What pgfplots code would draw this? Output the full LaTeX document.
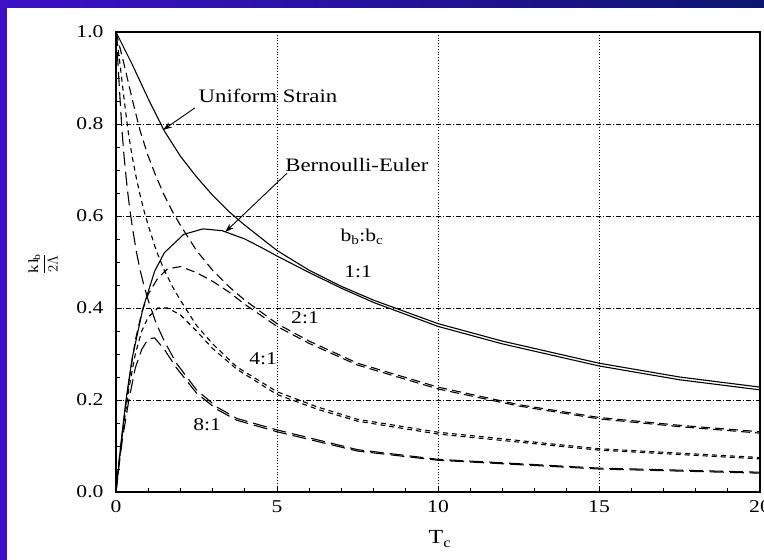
\documentclass[border=0pt]{standalone}
\usepackage{fontspec}
\setmainfont[FakeStretch=1.2]{Liberation Serif}
\usepackage{pgfplots}
\pgfplotsset{compat=1.18}
\usetikzlibrary{arrows.meta}
\definecolor{bgL}{RGB}{62,16,200}
\definecolor{bgR}{RGB}{12,22,110}
\begin{document}
\begin{tikzpicture}[x=1pt,y=1pt]
\useasboundingbox (0,0) rectangle (764,560);
\fill[white] (0,0) rectangle (764,560);
\fill[left color=bgL,right color=bgR] (0,552) rectangle (764,560);
\fill[bgL] (0,0) rectangle (7,552);
\begin{axis}[
  at={(116pt,68pt)}, anchor=south west,
  scale only axis, width=644pt, height=460pt,
  xmin=0, xmax=20, ymin=0, ymax=1,
  xtick={0,5,10,15,20}, ytick={0,0.2,0.4,0.6,0.8,1.0},
  minor x tick num=4, minor y tick num=3,
  yticklabel style={/pgf/number format/fixed, /pgf/number format/fixed zerofill, /pgf/number format/precision=1, xshift=-9pt},
  /pgf/number format/assume math mode=true,
  tick align=inside, tick pos=left,
  major tick length=6pt, minor tick length=4pt,
  xmajorgrids, ymajorgrids,
  x grid style={black, line width=0.8pt, dotted},
  y grid style={black, line width=0.8pt, dash pattern=on 5pt off 2pt on 1pt off 2pt},
  axis line style={line width=1.3pt},
  tick style={black, line width=0.9pt},
  tick label style={font=\fontsize{18}{18}\selectfont},
  xticklabel style={yshift=-5pt},
  every axis plot/.append style={line width=1.1pt, black},
]
% 1:1 uniform strain
\addplot[solid] coordinates {(0,1) (0.25,0.965) (0.5,0.93) (1,0.855) (1.5,0.785) (2,0.73) (2.5,0.685) (3,0.645) (3.5,0.61) (4,0.58) (5,0.525) (6,0.482) (7,0.447) (8,0.417) (10,0.366) (12,0.328) (15,0.28) (17.5,0.25) (20,0.228)};
% 1:1 Bernoulli-Euler
\addplot[solid] coordinates {(0,0) (0.1,0.07) (0.2,0.135) (0.31,0.2) (0.5,0.29) (0.84,0.4) (1.2,0.48) (1.5,0.52) (2.1,0.56) (2.7,0.572) (3.3,0.568) (4,0.55) (4.5,0.532) (5,0.513) (6,0.477) (7,0.443) (8,0.412) (10,0.36) (12,0.322) (15,0.274) (17.5,0.244) (20,0.222)};
% 2:1
\addplot[dash pattern=on 9pt off 5pt] coordinates {(0,1) (0.25,0.93) (0.5,0.855) (0.75,0.785) (1,0.73) (1.25,0.685) (1.5,0.645) (1.75,0.61) (2,0.58) (2.5,0.525) (3,0.482) (3.5,0.447) (4,0.417) (5,0.366) (6,0.328) (7.5,0.28) (10,0.228) (12.5,0.19) (15,0.162) (17.5,0.145) (20,0.131)};
\addplot[dash pattern=on 9pt off 5pt] coordinates {(0,0) (0.1,0.07) (0.2,0.13) (0.4,0.24) (0.6,0.33) (0.8,0.39) (1.0,0.43) (1.3,0.465) (1.6,0.485) (2,0.49) (2.5,0.477) (3,0.458) (3.5,0.435) (4,0.408) (5,0.36) (6,0.323) (7.5,0.276) (10,0.224) (12.5,0.187) (15,0.159) (17.5,0.142) (20,0.128)};
% 4:1
\addplot[dash pattern=on 5pt off 4pt] coordinates {(0,1) (0.125,0.93) (0.25,0.855) (0.375,0.785) (0.5,0.73) (0.625,0.685) (0.75,0.645) (0.875,0.61) (1,0.58) (1.25,0.525) (1.5,0.482) (1.75,0.447) (2,0.417) (2.5,0.362) (3,0.322) (3.75,0.272) (5,0.218) (6.25,0.185) (7.5,0.158) (10,0.13) (15,0.094) (20,0.075)};
\addplot[dash pattern=on 5pt off 4pt] coordinates {(0,0) (0.1,0.065) (0.2,0.125) (0.4,0.225) (0.6,0.3) (0.8,0.35) (1.0,0.38) (1.3,0.4) (1.6,0.4) (2.0,0.385) (2.5,0.35) (3,0.312) (3.75,0.267) (5,0.212) (6.25,0.18) (7.5,0.154) (10,0.126) (15,0.091) (20,0.072)};
% 8:1
\addplot[dash pattern=on 14pt off 6pt] coordinates {(0,1) (0.0625,0.93) (0.125,0.855) (0.1875,0.785) (0.25,0.73) (0.3125,0.685) (0.375,0.645) (0.4375,0.61) (0.5,0.58) (0.625,0.525) (0.75,0.482) (0.875,0.447) (1,0.417) (1.25,0.366) (1.5,0.328) (1.875,0.28) (2.5,0.222) (3.125,0.185) (3.75,0.16) (5,0.135) (7.5,0.092) (10,0.071) (15,0.052) (20,0.043)};
\addplot[dash pattern=on 14pt off 6pt] coordinates {(0,0) (0.1,0.06) (0.2,0.115) (0.4,0.2) (0.6,0.27) (0.8,0.31) (1.0,0.333) (1.2,0.335) (1.5,0.31) (1.875,0.27) (2.5,0.215) (3.125,0.18) (3.75,0.156) (5,0.131) (7.5,0.089) (10,0.069) (15,0.05) (20,0.041)};
% annotations
\node[font=\fontsize{19}{19}\selectfont] at (axis cs:4.72,0.861) {Uniform Strain};
\draw[line width=0.9pt, -{Stealth[length=9pt,width=6pt]}] (axis cs:2.45,0.835) -- (axis cs:1.46,0.787);
\node[font=\fontsize{19}{19}\selectfont] at (axis cs:7.48,0.711) {Bernoulli-Euler};
\draw[line width=0.9pt, -{Stealth[length=9pt,width=6pt]}] (axis cs:5.31,0.693) -- (axis cs:3.39,0.565);
\node[font=\fontsize{18}{18}\selectfont] at (axis cs:7.64,0.554) {b\textsubscript{b}:b\textsubscript{c}};
\node[font=\fontsize{18}{18}\selectfont] at (axis cs:7.52,0.478) {1:1};
\node[font=\fontsize{18}{18}\selectfont] at (axis cs:5.87,0.380) {2:1};
\node[font=\fontsize{18}{18}\selectfont] at (axis cs:4.57,0.289) {4:1};
\node[font=\fontsize{18}{18}\selectfont] at (axis cs:2.83,0.146) {8:1};
\end{axis}
\node[font=\fontsize{20}{20}\selectfont] at (440,21) {T\textsubscript{c}};
\node[rotate=90, font=\fontsize{14}{14}\selectfont] at (43,296) {$\displaystyle\frac{\mathrm{k\,l_b}}{2\Lambda}$};
\end{tikzpicture}
\end{document}
